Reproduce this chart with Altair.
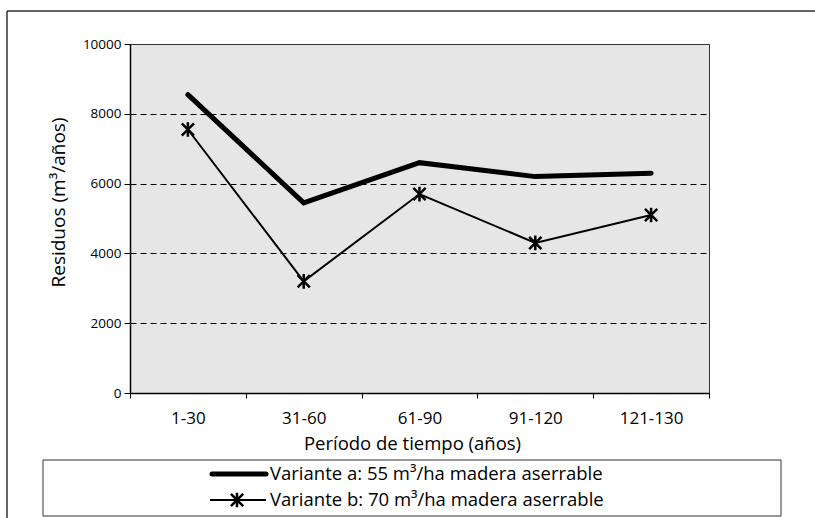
import altair as alt
import pandas as pd

# ---- data ----
periods = ["1-30", "31-60", "61-90", "91-120", "121-130"]
variante_a = [8550, 5450, 6600, 6200, 6300]
variante_b = [7550, 3200, 5700, 4300, 5100]
y_ticks = [0, 2000, 4000, 6000, 8000, 10000]
series_names = ["Variante a: 55 m³/ha madera aserrable",
                "Variante b: 70 m³/ha madera aserrable"]
x_title = "Período de tiempo (años)"
y_title = "Residuos (m³/años)"

FONT = "Open Sans"
W, H = 579, 349
STAR = "M-1,-1L1,1M-1,1L1,-1M0,-1.2L0,1.2"

df = pd.DataFrame({
    "period": periods * 2,
    "value": variante_a + variante_b,
    "series": [series_names[0]] * len(periods) + [series_names[1]] * len(periods),
})

x_enc = alt.X(
    "period:N", sort=periods,
    scale=alt.Scale(type="band", paddingInner=0, paddingOuter=0),
    axis=alt.Axis(title=x_title, tickBand="extent", labelAngle=0, grid=False,
                  labelFontSize=17, labelBaseline="middle", labelPadding=20,
                  tickSize=5, tickColor="black", domainColor="black", domainWidth=1.5,
                  titleFontSize=18.5, titleFontWeight="normal", titleX=282, titleY=50,
                  titleBaseline="middle", titleAlign="center"),
)
y_enc = alt.Y(
    "value:Q", scale=alt.Scale(domain=[0, 10000], nice=False),
    axis=alt.Axis(values=y_ticks, format="d", title=y_title, labelFontSize=13.5, tickSize=6,
                  labelPadding=3, tickColor="black", domainColor="black", domainWidth=1.5,
                  grid=True, gridColor="black", gridDash=[6, 4], gridWidth=1,
                  gridOpacity={"condition": {"test": "datum.value > 0 && datum.value < 10000", "value": 1}, "value": 0},
                  titleFontSize=19, titleFontWeight="normal", titleAngle=270,
                  titleX=-72, titleY=158, titleAlign="center", titleBaseline="middle"),
)

base = alt.Chart(df).encode(x=x_enc, y=y_enc)
line_a = base.transform_filter(alt.datum.series == series_names[0]).mark_line(
    color="black", strokeWidth=5, strokeCap="round")
line_b = base.transform_filter(alt.datum.series == series_names[1]).mark_line(
    color="black", strokeWidth=2)
pts_b = base.transform_filter(alt.datum.series == series_names[1]).mark_point(
    shape=STAR, size=150, filled=False, stroke="black", strokeWidth=2.5, opacity=1)

one = alt.Chart(pd.DataFrame({"k": [0]}))
outer_top = one.mark_rule(color="#333333", strokeWidth=1.5).encode(
    x=alt.value(-123), x2=alt.value(700), y=alt.value(-33))
outer_left = one.mark_rule(color="#333333", strokeWidth=1.5).encode(
    x=alt.value(-123), y=alt.value(-33), y2=alt.value(480))
leg_box = one.mark_rect(fill="white", stroke="#333333", strokeWidth=1).encode(
    x=alt.value(-87), x2=alt.value(651), y=alt.value(416), y2=alt.value(472))
leg_a = one.mark_rule(color="black", strokeWidth=5, strokeCap="round").encode(
    x=alt.value(82), x2=alt.value(136), y=alt.value(430))
leg_b = one.mark_rule(color="black", strokeWidth=2).encode(
    x=alt.value(80), x2=alt.value(136), y=alt.value(456))
leg_pt = one.mark_point(shape=STAR, size=150, filled=False, stroke="black",
                        strokeWidth=2.5, opacity=1).encode(
    x=alt.value(107), y=alt.value(456))
leg_ta = one.mark_text(align="left", baseline="middle", font=FONT, fontSize=18.5,
                       color="black").encode(
    x=alt.value(140), y=alt.value(430), text=alt.value(series_names[0]))
leg_tb = one.mark_text(align="left", baseline="middle", font=FONT, fontSize=18.5,
                       color="black").encode(
    x=alt.value(140), y=alt.value(456), text=alt.value(series_names[1]))

chart = alt.layer(
    line_a, line_b, pts_b,
    outer_top, outer_left, leg_box, leg_a, leg_b, leg_pt, leg_ta, leg_tb,
).properties(
    width=W, height=H,
    autosize=alt.AutoSizeParams(type="none"),
    padding={"left": 130, "top": 44, "right": 106, "bottom": 125},
    background="white",
).configure_view(
    fill="#e6e6e6", stroke="#333333", strokeWidth=1,
).configure_axis(
    labelFont=FONT, titleFont=FONT, labelColor="black", titleColor="black",
)

chart.save("out.html", embed_options={"renderer": "svg", "actions": False})
